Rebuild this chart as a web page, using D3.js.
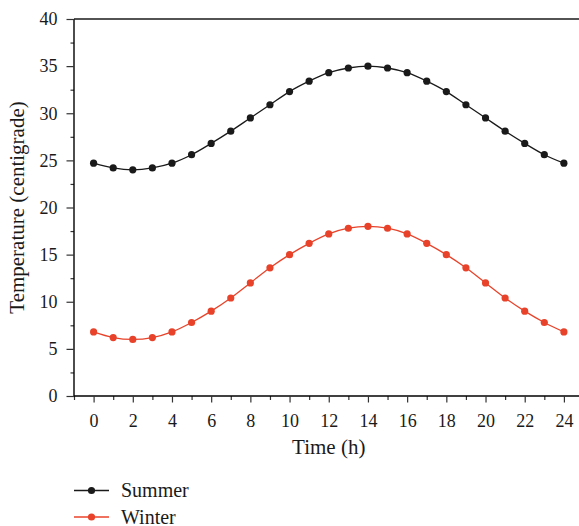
<!DOCTYPE html>
<html>
<head>
<meta charset="utf-8">
<script src="https://cdn.jsdelivr.net/npm/d3@7"></script>
<style>
    body { margin: 0; background: #fff; }
    svg { display: block; font-family: "Liberation Serif", "DejaVu Serif", serif; }
</style>
</head>
<body>
<div id="chart"></div>
<script>
// hours of the day
const hours = d3.range(0, 25);
// temperature readings (centigrade)
const summer = [24.7, 24.2, 24.0, 24.2, 24.7, 25.6, 26.8, 28.1, 29.5, 30.9, 32.3, 33.4, 34.3, 34.8, 35.0,
    34.8, 34.3, 33.4, 32.3, 30.9, 29.5, 28.1, 26.8, 25.6, 24.7];
const winter = [6.8, 6.2, 6.0, 6.2, 6.8, 7.8, 9.0, 10.4, 12.0, 13.6, 15.0, 16.2, 17.2, 17.8, 18.0,
    17.8, 17.2, 16.2, 15.0, 13.6, 12.0, 10.4, 9.0, 7.8, 6.8];
const xTicks = [0, 2, 4, 6, 8, 10, 12, 14, 16, 18, 20, 22, 24];
const yTicks = [0, 5, 10, 15, 20, 25, 30, 35, 40];

const series = [
    { name: 'Summer', values: summer, color: '#1a1a1a' },
    { name: 'Winter', values: winter, color: '#e8432a' }
];

const width = 579, height = 526;
const margin = { top: 19, left: 74, bottom: 130 };
const plotRight = 583.5; // the frame runs past the picture edge

const svg = d3.select('#chart').append('svg')
    .attr('width', width)
    .attr('height', height);

const x = d3.scaleLinear().domain([-1, 25]).range([margin.left, plotRight]);
const y = d3.scaleLinear().domain([0, 40]).range([height - margin.bottom, margin.top]);

// x axis (major + minor ticks)
const xAxis = svg.append('g').attr('transform', `translate(0,${y(0)})`);
xAxis.call(d3.axisBottom(x).tickValues(d3.range(-1, 26, 2)).tickSize(4).tickFormat(''));
xAxis.call(g => g.select('.domain').remove());
const xMajor = svg.append('g').attr('transform', `translate(0,${y(0)})`)
    .call(d3.axisBottom(x).tickValues(xTicks).tickSize(6.5).tickPadding(12).tickFormat(d3.format('d')));
xMajor.select('.domain').attr('stroke-width', 1.4).attr('d', `M${x(-1)},0H${plotRight}`);

// y axis
svg.append('g').attr('transform', `translate(${margin.left},0)`)
    .call(d3.axisLeft(y).tickValues(d3.range(2.5, 40, 5)).tickSize(3.5).tickFormat(''))
    .call(g => g.select('.domain').remove());
const yAxis = svg.append('g').attr('transform', `translate(${margin.left},0)`)
    .call(d3.axisLeft(y).tickValues(yTicks).tickSize(7.5).tickPadding(9).tickFormat(d3.format('d')));
yAxis.select('.domain').attr('stroke-width', 1.4).attr('d', `M0,${y(0)}V${y(40)}`);

svg.selectAll('.tick line').attr('stroke', '#333').attr('stroke-width', 1.2);
svg.selectAll('.tick text').attr('font-size', 18).attr('fill', '#1a1a1a')
    .attr('font-family', '"Liberation Serif", serif');

// top frame line
svg.append('line')
    .attr('x1', x(-1)).attr('x2', plotRight)
    .attr('y1', y(40)).attr('y2', y(40))
    .attr('stroke', '#1a1a1a').attr('stroke-width', 1.4);

// axis titles
svg.append('text')
    .attr('x', (x(-1) + plotRight) / 2)
    .attr('y', 454)
    .attr('text-anchor', 'middle')
    .attr('font-size', 21)
    .attr('fill', '#1a1a1a')
    .text('Time (h)');

svg.append('text')
    .attr('transform', `translate(24,${(y(0) + y(40)) / 2}) rotate(-90)`)
    .attr('text-anchor', 'middle')
    .attr('font-size', 21)
    .attr('fill', '#1a1a1a')
    .text('Temperature (centigrade)');

// lines and dots
const line = d3.line()
    .x((d, i) => x(hours[i]))
    .y(d => y(d))
    .curve(d3.curveMonotoneX);

series.forEach((s) => {
    const g = svg.append('g');
    g.append('path')
        .attr('d', line(s.values))
        .attr('fill', 'none')
        .attr('stroke', s.color)
        .attr('stroke-width', 1.3);
    g.selectAll('circle')
        .data(s.values)
        .enter()
        .append('circle')
        .attr('cx', (d, i) => x(hours[i]))
        .attr('cy', d => y(d))
        .attr('r', 3.6)
        .attr('fill', s.color);
});

// legend
const legend = svg.append('g');
series.forEach((s, i) => {
    const ly = 490.5 + i * 26.5;
    legend.append('line')
        .attr('x1', 74).attr('x2', 109)
        .attr('y1', ly).attr('y2', ly)
        .attr('stroke', s.color).attr('stroke-width', 1.3);
    legend.append('circle')
        .attr('cx', 91.5).attr('cy', ly).attr('r', 3.6)
        .attr('fill', s.color);
    legend.append('text')
        .attr('x', 121).attr('y', ly + 6.5)
        .attr('font-size', 20)
        .attr('fill', '#1a1a1a')
        .text(s.name);
});
</script>
</body>
</html>
